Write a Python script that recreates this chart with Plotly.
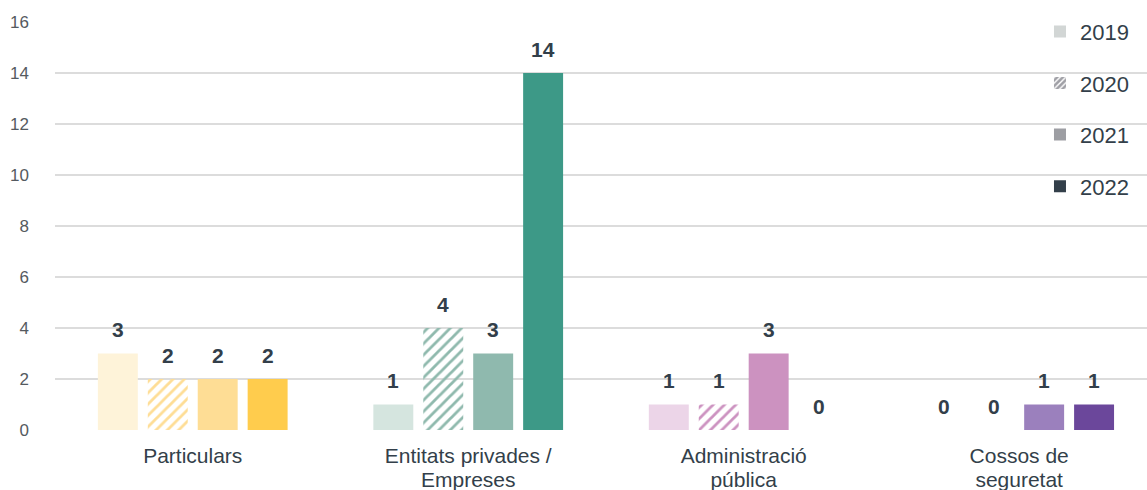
import plotly.graph_objects as go

# Data
categories = ["Particulars", "Entitats privades /<br>Empreses", "Administració<br>pública", "Cossos de<br>seguretat"]
years = ["2019", "2020", "2021", "2022"]
values = {
    "2019": [3, 1, 1, 0],
    "2020": [2, 4, 1, 0],
    "2021": [2, 3, 3, 1],
    "2022": [2, 14, 0, 1],
}
# Per-category colour for each year
bar_colors = {
    "2019": ["#fef3d9", "#d5e5df", "#ecd5e8", "#d9cde8"],
    "2020": ["#fedd95", "#8fb9ad", "#cc92c0", "#9b80bd"],
    "2021": ["#fedd95", "#8fb9ae", "#cc92c0", "#9b80bd"],
    "2022": ["#ffcc4d", "#3d9987", "#b55aa0", "#6b479b"],
}
legend_colors = {"2019": "#d2d6d5", "2020": "#a0a0a6", "2021": "#9d9ea3", "2022": "#333f4a"}
hatched = {"2020"}
y_ticks = [0, 2, 4, 6, 8, 10, 12, 14, 16]

TEXT = "#333f4a"
FONT = "Liberation Sans, Arial, sans-serif"
BARGAP = 0.275
GROUPGAP = 0.2
X_RANGE = [-0.5, 3.464]

fig = go.Figure()
x_idx = list(range(len(categories)))

# Category labels are split into two rows, drawn on two stacked axes for tighter line spacing
label_rows = [c.split("<br>") for c in categories]
row1 = [r[0] for r in label_rows]
row2 = [r[1] if len(r) > 1 else "" for r in label_rows]

for y in years:
    pattern = dict(shape="")
    if y in hatched:
        pattern = dict(shape="/", bgcolor=bar_colors[y], fgcolor="white",
                       size=8, solidity=0.35, fillmode="replace")
    fig.add_trace(go.Bar(
        x=x_idx, y=values[y], name=y,
        marker=dict(color=bar_colors[y], line=dict(width=0), pattern=pattern),
        showlegend=False, hoverinfo="skip",
    ))

# Legend entries in neutral greys (on a hidden overlay axis so they take no bar slot)
for y in years:
    pattern = dict(shape="")
    if y in hatched:
        pattern = dict(shape="/", bgcolor=legend_colors[y], fgcolor="white",
                       size=5, solidity=0.35, fillmode="replace")
    fig.add_trace(go.Bar(
        x=[None], y=[None], name=y, legendgroup=y, xaxis="x2",
        marker=dict(color=legend_colors[y], line=dict(width=0), pattern=pattern),
        showlegend=True,
    ))

# Value labels above each bar
slot = (1 - BARGAP) / len(years)
annotations = []
for j, y in enumerate(years):
    for i, v in enumerate(values[y]):
        annotations.append(dict(
            x=i + (j - (len(years) - 1) / 2) * slot, y=v, xref="x", yref="y",
            text=f"<b>{v}</b>", showarrow=False, yanchor="middle", yshift=24,
            font=dict(family=FONT, size=21, color=TEXT),
        ))

cat_font = dict(family=FONT, size=21, color=TEXT)

fig.update_layout(
    width=1147, height=490,
    margin=dict(l=55, r=0, t=22, b=60, autoexpand=False),
    paper_bgcolor="white", plot_bgcolor="white",
    barmode="group", bargap=BARGAP, bargroupgap=GROUPGAP,
    font=dict(family=FONT, color=TEXT),
    annotations=annotations,
    legend=dict(
        x=0.902, y=1.028, xanchor="left", yanchor="top",
        bgcolor="rgba(0,0,0,0)", font=dict(family=FONT, size=22, color=TEXT),
        tracegroupgap=20, itemwidth=30,
    ),
    xaxis=dict(
        tickmode="array", tickvals=x_idx, ticktext=row1,
        range=X_RANGE, showgrid=False, zeroline=False, showline=False,
        ticks="", tickfont=cat_font, ticklabelstandoff=11, automargin=False,
    ),
    xaxis2=dict(overlaying="x", visible=False, range=[0, 1]),
    xaxis3=dict(
        overlaying="x", side="bottom", matches="x",
        tickmode="array", tickvals=x_idx, ticktext=row2,
        showgrid=False, zeroline=False, showline=False,
        ticks="", tickfont=cat_font, ticklabelstandoff=35, automargin=False,
    ),
    yaxis=dict(
        range=[0, 16], tickvals=y_ticks, showgrid=True, gridcolor="#dcdcdc",
        gridwidth=1.5, zeroline=False, showline=False, ticks="",
        tickfont=dict(family=FONT, size=17, color="#555a60"),
        ticklabelstandoff=25, automargin=False,
    ),
)

# An empty trace so the second label row axis is drawn
fig.add_trace(go.Scatter(x=[None], y=[None], xaxis="x3", showlegend=False, hoverinfo="skip"))

fig.write_html("out.html")
